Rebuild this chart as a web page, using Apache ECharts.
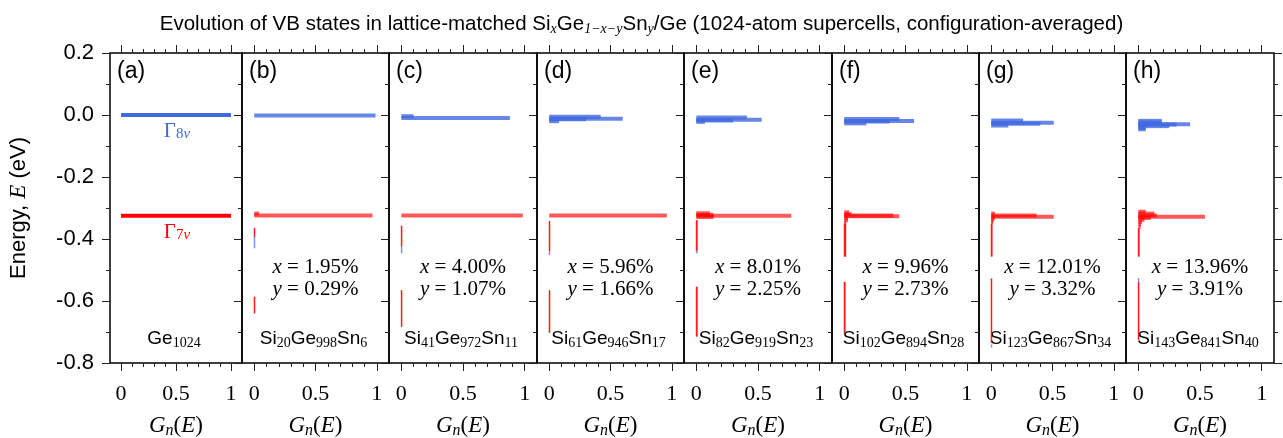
<!DOCTYPE html>
<html>
<head>
<meta charset="utf-8">
<script src="https://cdn.jsdelivr.net/npm/echarts@6/dist/echarts.min.js"></script>
<style>
html, body { margin: 0; padding: 0; background: #fff; }
#main { width: 1283px; height: 438px; }
</style>
</head>
<body>
<div id="main"></div>
<script>
// panel tags and compositions
var panelTags = ['(a)', '(b)', '(c)', '(d)', '(e)', '(f)', '(g)', '(h)'];
var xPct = ['', '1.95', '4.00', '5.96', '8.01', '9.96', '12.01', '13.96'];
var yPct = ['', '0.29', '1.07', '1.66', '2.25', '2.73', '3.32', '3.91'];
var nSi = [0, 20, 41, 61, 82, 102, 123, 143];
var nGe = [1024, 998, 972, 946, 919, 894, 867, 841];
var nSn = [0, 6, 11, 17, 23, 28, 34, 40];

// Gamma_8v derived levels per panel: [E (eV), Gn]
var g8Levels = [
    [[0.000, 1.00]],
    [[-0.002, 0.99]],
    [[-0.004, 0.10], [-0.010, 0.88]],
    [[-0.006, 0.42], [-0.012, 0.60], [-0.014, 0.30], [-0.020, 0.08]],
    [[-0.008, 0.41], [-0.015, 0.53], [-0.018, 0.30], [-0.022, 0.07]],
    [[-0.013, 0.45], [-0.019, 0.57], [-0.021, 0.37], [-0.027, 0.18]],
    [[-0.018, 0.26], [-0.025, 0.51], [-0.028, 0.40], [-0.034, 0.14]],
    [[-0.019, 0.19], [-0.024, 0.19], [-0.030, 0.42], [-0.031, 0.31], [-0.036, 0.25], [-0.041, 0.06], [-0.046, 0.06]]
];
// Gamma_7v derived levels per panel: [E (eV), Gn]
var g7Levels = [
    [[-0.325, 1.00]],
    [[-0.318, 0.04], [-0.324, 0.965]],
    [[-0.324, 0.985]],
    [[-0.324, 0.96]],
    [[-0.317, 0.11], [-0.322, 0.14], [-0.325, 0.77], [-0.329, 0.14]],
    [[-0.314, 0.04], [-0.320, 0.06], [-0.324, 0.40], [-0.327, 0.45], [-0.333, 0.03], [-0.340, 0.03], [-0.348, 0.015]],
    [[-0.318, 0.03], [-0.324, 0.37], [-0.328, 0.51], [-0.333, 0.03], [-0.340, 0.02], [-0.346, 0.015]],
    [[-0.312, 0.06], [-0.318, 0.13], [-0.324, 0.15], [-0.328, 0.54], [-0.332, 0.10], [-0.338, 0.05], [-0.345, 0.03], [-0.352, 0.02], [-0.360, 0.02]]
];
// weak deep states: [E top, E bottom, Gn]
var redTails = [
    [],
    [[-0.364, -0.395, 0.010], [-0.586, -0.640, 0.010]],
    [[-0.357, -0.425, 0.012], [-0.565, -0.683, 0.010]],
    [[-0.342, -0.440, 0.012], [-0.565, -0.703, 0.012]],
    [[-0.339, -0.438, 0.015], [-0.554, -0.715, 0.015]],
    [[-0.350, -0.457, 0.020], [-0.538, -0.705, 0.015]],
    [[-0.350, -0.457, 0.015], [-0.527, -0.735, 0.012]],
    [[-0.365, -0.457, 0.015], [-0.538, -0.726, 0.012]]
];
var blueTails = [
    [],
    [[-0.395, -0.430, 0.010]],
    [[-0.425, -0.446, 0.012]],
    [[-0.440, -0.452, 0.012]],
    [[-0.438, -0.446, 0.015]],
    [],
    [[-0.740, -0.750, 0.012]],
    [[-0.526, -0.538, 0.012]]
];

var xMajor = [0, 0.5, 1];
var xMinor = [0, 0.1, 0.2, 0.3, 0.4, 0.5, 0.6, 0.7, 0.8, 0.9, 1];

var SANS = 'Liberation Sans';
var SERIF = 'Liberation Serif';
var BLUE = '#4169e1';
var RED = '#ff0000';

// layout
var edges = [110, 242, 389, 537, 684, 832, 979, 1126, 1274];
var TOP = 53, HEIGHT = 310;

function levelRender(color, alpha) {
    return function (params, api) {
        var e = api.value(0), g = api.value(1);
        var a = api.coord([0, e]), b = api.coord([g, e]);
        return {
            type: 'rect',
            shape: { x: a[0], y: a[1] - 2, width: Math.max(b[0] - a[0], 1.5), height: 4 },
            style: { fill: color, opacity: alpha }
        };
    };
}
function tailRender(color, alpha) {
    return function (params, api) {
        var a = api.coord([0, api.value(0)]), b = api.coord([api.value(2), api.value(1)]);
        return {
            type: 'rect',
            shape: { x: a[0] - 0.5, y: a[1], width: Math.max(b[0] - a[0], 1.5), height: b[1] - a[1] },
            style: { fill: color, opacity: alpha }
        };
    };
}

var grids = [], xAxes = [], yAxes = [], series = [], graphics = [];
var tickColor = '#222';

for (var i = 0; i < 8; i++) {
    var L = edges[i], W = edges[i + 1] - edges[i];
    grids.push({ left: L, top: TOP, width: W, height: HEIGHT, show: true, outerBoundsMode: 'none',
        containLabel: false, borderColor: '#000', borderWidth: 1.5, backgroundColor: 'transparent' });

    var base = { gridIndex: i, type: 'value', min: -0.1, max: 1.1,
        axisLine: { show: false, onZero: false }, splitLine: { show: false } };
    xAxes.push(Object.assign({}, base, {
        position: 'bottom',
        axisTick: { customValues: xMajor, length: 8, lineStyle: { color: tickColor } },
        axisLabel: { customValues: xMajor, margin: 20, fontFamily: SERIF, fontSize: 22, color: '#000',
            formatter: function (v) { return String(v); } },
        name: '{i|G}{s|n}({i|E})', nameLocation: 'middle', nameGap: 50,
        nameTextStyle: { fontFamily: SERIF, fontSize: 23, color: '#000', lineHeight: 26,
            rich: { i: { fontFamily: SERIF, fontStyle: 'italic', fontSize: 23, lineHeight: 26 },
                    s: { fontFamily: SERIF, fontStyle: 'italic', fontSize: 16, lineHeight: 10, verticalAlign: 'bottom' } } }
    }));
    xAxes.push(Object.assign({}, base, {
        position: 'bottom',
        axisTick: { customValues: xMinor, length: 4, lineStyle: { color: tickColor } },
        axisLabel: { show: false }
    }));
    xAxes.push(Object.assign({}, base, {
        position: 'top',
        axisTick: { customValues: xMajor, length: 8, lineStyle: { color: tickColor } },
        axisLabel: { show: false }
    }));
    xAxes.push(Object.assign({}, base, {
        position: 'top',
        axisTick: { customValues: xMinor, length: 4, lineStyle: { color: tickColor } },
        axisLabel: { show: false }
    }));

    var ybase = { gridIndex: i, type: 'value', min: -0.8, max: 0.2, interval: 0.2,
        axisLine: { show: false, onZero: false }, splitLine: { show: false },
        axisTick: { length: 8, lineStyle: { color: tickColor } },
        minorTick: { show: true, splitNumber: 2, length: 4, lineStyle: { color: tickColor } },
        minorSplitLine: { show: false } };
    var yLeft = Object.assign({}, ybase, {
        position: 'left',
        axisLabel: { show: i === 0, margin: 16, fontFamily: SANS, fontSize: 22, color: '#000',
            formatter: function (v) { return v.toFixed(1); } }
    });
    if (i === 0) {
        yLeft.name = 'Energy, {i|E} (eV)';
        yLeft.nameLocation = 'middle';
        yLeft.nameRotate = 90;
        yLeft.nameGap = 80;
        yLeft.nameTextStyle = { fontFamily: SANS, fontSize: 22, color: '#000',
            rich: { i: { fontFamily: SERIF, fontStyle: 'italic', fontSize: 23 } } };
    }
    var yIdx = yAxes.length;
    yAxes.push(yLeft);
    if (i === 7) {
        yAxes.push(Object.assign({}, ybase, { position: 'right', axisLabel: { show: false } }));
    }

    var xIdx = i * 4;
    var solid = i === 0;
    series.push({ type: 'custom', xAxisIndex: xIdx, yAxisIndex: yIdx, renderItem: levelRender(BLUE, solid ? 1 : 0.8),
        encode: { x: 1, y: 0 }, data: g8Levels[i], silent: true });
    series.push({ type: 'custom', xAxisIndex: xIdx, yAxisIndex: yIdx, renderItem: levelRender(RED, solid ? 1 : 0.65),
        encode: { x: 1, y: 0 }, data: g7Levels[i], silent: true });
    series.push({ type: 'custom', xAxisIndex: xIdx, yAxisIndex: yIdx, renderItem: tailRender(RED, 0.9),
        encode: { x: 2, y: 0 }, data: redTails[i], silent: true });
    series.push({ type: 'custom', xAxisIndex: xIdx, yAxisIndex: yIdx, renderItem: tailRender(BLUE, 0.7),
        encode: { x: 2, y: 0 }, data: blueTails[i], silent: true });

    var cx = L + W / 2;
    graphics.push({ type: 'text', left: L + 7, top: 60, silent: true,
        style: { text: panelTags[i], font: '23px "' + SANS + '"', fill: '#000' } });

    var comp = i === 0 ? 'Ge{n|' + nGe[i] + '}'
        : 'Si{n|' + nSi[i] + '}Ge{n|' + nGe[i] + '}Sn{n|' + nSn[i] + '}';
    graphics.push({ type: 'text', x: cx - 2, y: 339, silent: true,
        style: { text: comp, fontFamily: SANS, fontSize: 19, fill: '#000', align: 'center', verticalAlign: 'middle',
            lineHeight: 22,
            rich: { n: { fontFamily: SERIF, fontSize: 14, lineHeight: 9, verticalAlign: 'bottom' } } } });

    if (i > 0) {
        graphics.push({ type: 'text', x: cx, y: 267, silent: true,
            style: { text: '{i|x} = ' + xPct[i] + '%', fontFamily: SERIF, fontSize: 21, fill: '#000',
                align: 'center', verticalAlign: 'middle',
                rich: { i: { fontFamily: SERIF, fontStyle: 'italic', fontSize: 21 } } } });
        graphics.push({ type: 'text', x: cx, y: 289, silent: true,
            style: { text: '{i|y} = ' + yPct[i] + '%', fontFamily: SERIF, fontSize: 21, fill: '#000',
                align: 'center', verticalAlign: 'middle',
                rich: { i: { fontFamily: SERIF, fontStyle: 'italic', fontSize: 21 } } } });
    }
}

// Gamma labels in panel (a)
graphics.push({ type: 'text', x: 177, y: 131, silent: true,
    style: { text: 'Γ{n|8}{i|v}', fontFamily: SERIF, fontSize: 21, fill: BLUE, align: 'center', verticalAlign: 'middle',
        lineHeight: 22,
        rich: { n: { fontFamily: SERIF, fontSize: 15, lineHeight: 8, verticalAlign: 'bottom', fill: BLUE },
                i: { fontFamily: SERIF, fontStyle: 'italic', fontSize: 15, lineHeight: 8, verticalAlign: 'bottom', fill: BLUE } } } });
graphics.push({ type: 'text', x: 177, y: 232, silent: true,
    style: { text: 'Γ{n|7}{i|v}', fontFamily: SERIF, fontSize: 21, fill: RED, align: 'center', verticalAlign: 'middle',
        lineHeight: 22,
        rich: { n: { fontFamily: SERIF, fontSize: 15, lineHeight: 8, verticalAlign: 'bottom', fill: RED },
                i: { fontFamily: SERIF, fontStyle: 'italic', fontSize: 15, lineHeight: 8, verticalAlign: 'bottom', fill: RED } } } });

var chart = echarts.init(document.getElementById('main'), null, { renderer: 'canvas' });
chart.setOption({
    animation: false,
    backgroundColor: '#fff',
    title: {
        text: 'Evolution of VB states in lattice-matched Si{s|x}Ge{s|1−x−y}Sn{s|y}/Ge (1024-atom supercells, configuration-averaged)',
        left: 'center', top: 7,
        textStyle: { fontFamily: SANS, fontSize: 20.5, fontWeight: 'normal', color: '#000', lineHeight: 24,
            rich: { s: { fontFamily: SERIF, fontStyle: 'italic', fontSize: 14, lineHeight: 8, verticalAlign: 'bottom' } } }
    },
    grid: grids,
    xAxis: xAxes,
    yAxis: yAxes,
    series: series,
    graphic: graphics
});
</script>
</body>
</html>
